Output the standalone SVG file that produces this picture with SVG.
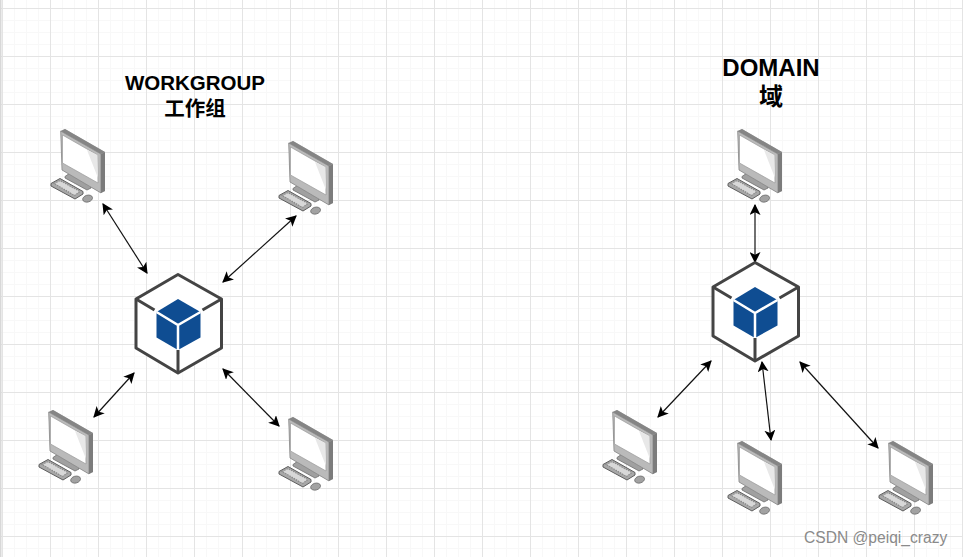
<svg xmlns="http://www.w3.org/2000/svg" width="963" height="557" viewBox="0 0 963 557">
<style>
.c{stroke:#111;stroke-width:1.2;fill:none;marker-start:url(#a);marker-end:url(#b)}
.t{font-family:"Liberation Sans","Noto Sans CJK SC",sans-serif;font-weight:bold;text-anchor:middle;fill:#000}
</style>
<defs>
<pattern id="g" x="2" y="8" width="48" height="48" patternUnits="userSpaceOnUse">
<path d="M12.500 0V48M24.500 0V48M36.500 0V48M0 12.500H48M0 24.500H48M0 36.500H48" stroke="#f8f8f8" fill="none"/>
<path d="M.5 0V48M0 .5H48" stroke="#e4e4e4" fill="none"/>
</pattern>
<marker id="b" viewBox="0 0 10 10" refX="9" refY="5" markerWidth="11" markerHeight="11" markerUnits="userSpaceOnUse" orient="auto"><path d="M0 0L10 5L0 10L2.500 5Z" fill="#000"/></marker>
<marker id="a" viewBox="0 0 10 10" refX="1" refY="5" markerWidth="11" markerHeight="11" markerUnits="userSpaceOnUse" orient="auto"><path d="M10 0L0 5L10 10L7.500 5Z" fill="#000"/></marker>
<g id="pc">
<path d="M15 48.500L20 45L41 57.500V60L37 62L15 50Z" fill="#a0a0a0" stroke="#6e6e6e" stroke-width=".8"/>
<path d="M1 55.500L10 50.500L33 63.500V66L25 71L1 58Z" fill="#a8a8a8" stroke="#5e5e5e" stroke-width="1"/>
<path d="M4 55.500L10 52.500L30 63.500L24.500 67.500Z" fill="#d8d8d8" stroke="#8a8a8a" stroke-width="1.200" stroke-dasharray="1.500 1"/>
<ellipse cx="37.600" cy="70.600" rx="5" ry="3.400" fill="#a2a2a2" stroke="#707070" stroke-width=".8" transform="rotate(-15 37.600 70.600)"/>
<path d="M10.700 3L15 1L55 24V63L51 65L12 42Z" fill="#b8b8b8"/>
<path d="M10.700 3L15 1L55 24L51 26Z" fill="#858585"/>
<path d="M51 26L55 24V63L51 65Z" fill="#7c7c7c"/>
<path d="M10.700 3L51 26V65L12 42Z" fill="#bababa" stroke="#808080" stroke-width=".7"/>
<path d="M12.500 7L47.500 27L48 55L12.500 35Z" fill="#fff" stroke="#9a9a9a" stroke-width=".7"/>
<path d="M37 22L47.500 27L48 50Z" fill="#e8e8e8"/>
</g>
<g id="cube">
<path d="M.5 25L42.500 .5L86 25V74L42.500 99L.5 74Z" fill="#fff" stroke="#444" stroke-width="3" stroke-linejoin="round"/>
<path d="M.5 25L19 36M86 25L67 36M42.500 99V76" fill="none" stroke="#444" stroke-width="3"/>
<path d="M42.500 25L65 38V63.500L42.500 76L21 63.500V38Z" fill="#0f4d92"/>
<path d="M21 38L42.500 51L65 38M42.500 51V76" fill="none" stroke="#fff" stroke-width="2.500"/>
</g>
</defs>
<rect width="963" height="557" fill="#fff"/>
<rect width="963" height="557" fill="url(#g)"/>
<rect x="0" y="0" width="1.500" height="557" fill="#d8d8d8"/>
<g id="connectors">
<path class="c" d="M103 204L147 273"/>
<path class="c" d="M296 216L223 282"/>
<path class="c" d="M134 373L94 417"/>
<path class="c" d="M223 369L279 426"/>
<path class="c" d="M755 205V262"/>
<path class="c" d="M711 361L658 417"/>
<path class="c" d="M762 362L771 440"/>
<path class="c" d="M800 362L878 448"/>
</g>
<g id="pc1"><use href="#pc" x="50" y="128"/></g>
<g id="pc2"><use href="#pc" x="278" y="140"/></g>
<g id="pc3"><use href="#pc" x="38" y="409"/></g>
<g id="pc4"><use href="#pc" x="278" y="416"/></g>
<g id="pc5"><use href="#pc" x="727" y="128"/></g>
<g id="pc6"><use href="#pc" x="602" y="409"/></g>
<g id="pc7"><use href="#pc" x="727" y="440"/></g>
<g id="pc8"><use href="#pc" x="878" y="440"/></g>
<g id="hub1"><use href="#cube" x="135.500" y="274"/></g>
<g id="hub2"><use href="#cube" x="712.500" y="262"/></g>
<g id="workgroup"><text class="t" x="195" y="90" font-size="20.500">WORKGROUP</text><text class="t" x="195" y="116" font-size="20.500">工作组</text></g>
<g id="domain"><text class="t" x="771" y="76" font-size="24">DOMAIN</text><text class="t" x="771" y="105" font-size="24">域</text></g>
<text x="804" y="543" font-family="Liberation Sans,sans-serif" font-size="15.600" fill="#8a8a8a">CSDN @peiqi_crazy</text>
</svg>
